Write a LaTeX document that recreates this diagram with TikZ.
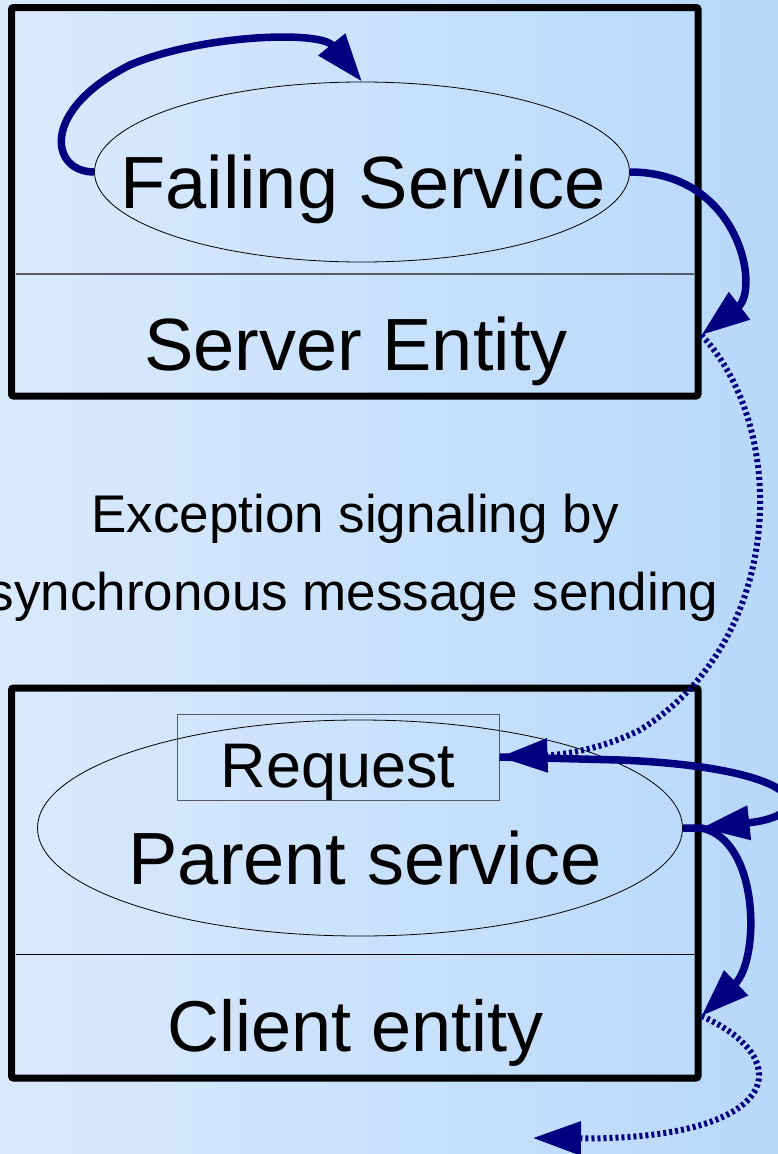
\documentclass[tikz,border=0pt]{standalone}
\usepackage{fontspec}
\setmainfont{Liberation Sans}
\usetikzlibrary{arrows.meta,shapes.geometric}
\definecolor{bgA}{RGB}{218,234,253}
\definecolor{bgB}{RGB}{184,216,250}
\definecolor{arrowblue}{RGB}{0,0,128}
\definecolor{divgray}{RGB}{85,90,100}
\tikzset{
  entitybox/.style={draw=black, line width=7pt, rounded corners=2pt, inner sep=0pt, minimum width=686.5pt},
  section/.style={inner sep=0pt, outer sep=0pt, minimum width=686.5pt},
  service/.style={draw=black, line width=0.8pt, ellipse, inner sep=0pt},
  reqbox/.style={draw=divgray, line width=1pt, inner sep=0pt, minimum width=322pt, minimum height=86pt},
  bigtext/.style={anchor=base, inner sep=0pt, font=\fontsize{74}{80}\selectfont},
  note/.style={anchor=base, inner sep=0pt, font=\fontsize{53}{60}\selectfont},
  divider/.style={line width=1.2pt},
  flow/.style={draw=arrowblue, line width=7.5pt, -{Triangle[length=48pt,width=33pt]}},
  signal/.style={flow, line width=6pt, dash pattern=on 3pt off 3pt},
}
\begin{document}
\begin{tikzpicture}[x=1pt,y=-1pt]
\useasboundingbox (0,0) rectangle (778,1154);
\shade[left color=bgA, right color=bgB] (0,0) rectangle (778,1154);

% boxes
\node[entitybox, minimum height=388.5pt] (topbox) at (354.75,201.75) {};
\node[entitybox, minimum height=390pt] (botbox) at (354.75,883) {};
\node[section, minimum height=122pt] (srv) at (354.75,335) {};
\node[section, minimum height=124pt] (cli) at (354.75,1016) {};
\draw[divider, draw=divgray] ([xshift=4pt]srv.north west) -- ([xshift=-4pt]srv.north east);
\draw[divider, draw=black, line width=1pt] ([xshift=4pt]cli.north west) -- ([xshift=-4pt]cli.north east);

% services
\node[service, minimum width=535pt, minimum height=180pt] (fs) at (362,172) {};
\node[service, minimum width=645pt, minimum height=216pt] (ps) at (360,828) {};
\node[reqbox] (req) at (338,757) {};

% texts
\node[bigtext] (fst) at (363,208) {Failing Service};
\node[bigtext] (set) at (356,370) {Server Entity};
\node[bigtext, font=\fontsize{63}{70}\selectfont] (rqt) at (338,787) {Request};
\node[bigtext] (pst) at (365,884) {Parent service};
\node[bigtext, font=\fontsize{72}{78}\selectfont] (clt) at (356,1051) {Client entity};
\node[note] (n1) at (355,532) {Exception signaling by};
\node[note] (n2) at (353,610) {synchronous message sending};

% coordinates
\coordinate (junc) at (701.5,828);
\coordinate (out) at (533,1138);

% connectors
\draw[flow] (fs.west) .. controls (50,172) and (40,110) .. (130,65)
  .. controls (200,35) and (320,30) .. (fs.north);
\draw[flow] (fs.east) .. controls (740,172) and (760,290) .. ([xshift=3.5pt]srv.east);
\draw[flow] (req.east) -- (620,760) .. controls (810,768) and (820,815) .. (junc);
\draw[signal] ([xshift=3.5pt]srv.east) .. controls (790,430) and (785,640) .. (640,730)
  .. controls (600,750) and (560,755) .. (req.east);
\draw[flow] (ps.east) -- (junc) .. controls (760,840) and (760,960) .. ([xshift=3.5pt]cli.east);
\draw[signal] ([xshift=3.5pt]cli.east) .. controls (800,1060) and (780,1140) .. (out);
\end{tikzpicture}
\end{document}
